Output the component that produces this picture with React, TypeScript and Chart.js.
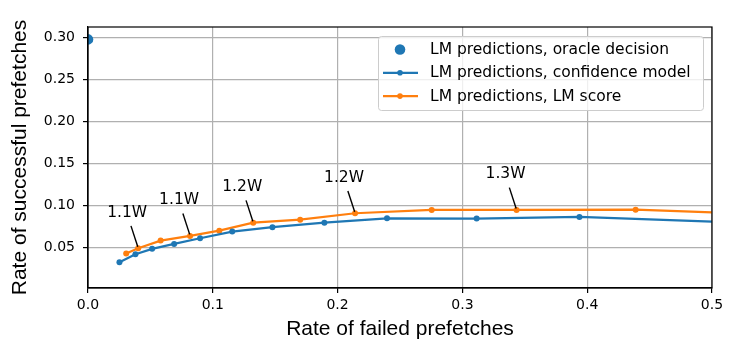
import React, { useEffect, useRef } from "react";
import { Chart, registerables } from "chart.js";

Chart.register(...registerables);

// ---- data ----
const oracleX = [0.0];
const oracleY = [0.2973];

const confX = [0.0252, 0.038, 0.0514, 0.069, 0.0898, 0.1156, 0.1478, 0.1894, 0.2396, 0.3114, 0.3938, 0.56];
const confY = [0.0327, 0.0422, 0.0485, 0.0544, 0.0611, 0.069, 0.0742, 0.0796, 0.0848, 0.0844, 0.0864, 0.0776];

const lmX = [0.0306, 0.0402, 0.0582, 0.0818, 0.1052, 0.1324, 0.17, 0.214, 0.2754, 0.3434, 0.4388, 0.56];
const lmY = [0.0429, 0.0493, 0.0583, 0.0639, 0.0701, 0.0796, 0.0832, 0.0908, 0.0947, 0.0947, 0.095, 0.0889];

const annotLabels = ["1.1W", "1.1W", "1.2W", "1.2W", "1.3W"];
const annotIndex = [1, 3, 5, 7, 9];

const xTicks = [0.0, 0.1, 0.2, 0.3, 0.4, 0.5];
const yTicks = [0.05, 0.1, 0.15, 0.2, 0.25, 0.3];

const seriesLabels = [
  "LM predictions, oracle decision",
  "LM predictions, confidence model",
  "LM predictions, LM score",
];

const BLUE = "#1f77b4";
const ORANGE = "#ff7f0e";

const toPts = (xs: number[], ys: number[]) => xs.map((x, i) => ({ x, y: ys[i] }));
const CLIP = { left: 0, top: 0, right: 0, bottom: 0 };

const clipPlugin = {
  id: "hardClip",
  beforeDatasetDraw(chart: any) {
    const { ctx, chartArea: a } = chart;
    ctx.save();
    ctx.beginPath();
    ctx.rect(a.left, a.top, a.right - a.left, a.bottom - a.top);
    ctx.clip();
  },
  afterDatasetDraw(chart: any) {
    chart.ctx.restore();
  },
};

const framePlugin = {
  id: "frame",
  afterDatasetsDraw(chart: any) {
    const { ctx, chartArea: a } = chart;
    ctx.save();
    ctx.strokeStyle = "#000";
    ctx.lineWidth = 1.2;
    ctx.strokeRect(a.left, a.top, a.right - a.left, a.bottom - a.top);
    ctx.restore();
  },
};

const annotPlugin = {
  id: "annots",
  afterDatasetsDraw(chart: any) {
    const { ctx } = chart;
    const xs = chart.scales.x;
    const ys = chart.scales.y;
    ctx.save();
    ctx.font = "15.5px 'DejaVu Sans'";
    ctx.fillStyle = "#000";
    ctx.strokeStyle = "#000";
    ctx.lineWidth = 1.4;
    ctx.textAlign = "center";
    ctx.textBaseline = "alphabetic";
    annotLabels.forEach((lab, k) => {
      const i = annotIndex[k];
      const px = xs.getPixelForValue(lmX[i]);
      const py = ys.getPixelForValue(lmY[i]);
      ctx.fillText(lab, px - 11, py - 31.5);
      ctx.beginPath();
      ctx.moveTo(px - 7.2, py - 22.3);
      ctx.lineTo(px - 0.4, py - 1.5);
      ctx.stroke();
    });
    ctx.restore();
  },
};

const legendPlugin = {
  id: "customLegend",
  afterDraw(chart: any) {
    const { ctx, chartArea: a } = chart;
    const w = 325;
    const h = 74;
    const left = a.right - 9 - w;
    const top = a.top + 9.5;
    ctx.save();
    ctx.beginPath();
    ctx.roundRect(left + 0.5, top, w, h, 3);
    ctx.fillStyle = "rgba(255,255,255,0.8)";
    ctx.fill();
    ctx.strokeStyle = "#cccccc";
    ctx.lineWidth = 1;
    ctx.stroke();
    ctx.font = "15.5px 'DejaVu Sans'";
    ctx.textBaseline = "middle";
    ctx.textAlign = "left";
    chart.data.datasets.forEach((ds: any, i: number) => {
      const cy = top + 13 + i * 23.3;
      const cx = left + 22;
      if (ds.showLine === false) {
        ctx.beginPath();
        ctx.arc(cx, cy, 5.3, 0, Math.PI * 2);
        ctx.fillStyle = ds.backgroundColor;
        ctx.fill();
      } else {
        ctx.beginPath();
        ctx.moveTo(left + 5, cy);
        ctx.lineTo(left + 40, cy);
        ctx.strokeStyle = ds.borderColor;
        ctx.lineWidth = 2.2;
        ctx.stroke();
        ctx.beginPath();
        ctx.arc(cx, cy, 2.8, 0, Math.PI * 2);
        ctx.fillStyle = ds.borderColor;
        ctx.fill();
      }
      ctx.fillStyle = "#000";
      ctx.fillText(ds.label, left + 52, cy + 0.5);
    });
    ctx.restore();
  },
};

export default function App() {
  const ref = useRef<HTMLCanvasElement>(null);
  useEffect(() => {
    document.body.style.margin = "0";
    const canvas = ref.current!;
    Chart.defaults.font.family = "'DejaVu Sans'";
    Chart.defaults.color = "#000";
    const chart = new Chart(canvas, {
      type: "line",
      data: {
        datasets: [
          {
            label: seriesLabels[0],
            data: toPts(oracleX, oracleY),
            showLine: false,
            backgroundColor: BLUE,
            borderColor: BLUE,
            pointRadius: 5.3,
            pointBorderWidth: 0,
            clip: CLIP,
          },
          {
            label: seriesLabels[1],
            data: toPts(confX, confY),
            borderColor: BLUE,
            backgroundColor: BLUE,
            borderWidth: 2.2,
            pointRadius: 3,
            pointBorderWidth: 0,
            tension: 0,
            clip: CLIP,
          },
          {
            label: seriesLabels[2],
            data: toPts(lmX, lmY),
            borderColor: ORANGE,
            backgroundColor: ORANGE,
            borderWidth: 2.2,
            pointRadius: 3,
            pointBorderWidth: 0,
            tension: 0,
            clip: CLIP,
          },
        ],
      },
      options: {
        responsive: false,
        animation: false,
        events: [],
        layout: { padding: { left: 0, right: 23, top: 27, bottom: 0 } },
        plugins: { legend: { display: false }, tooltip: { enabled: false } },
        scales: {
          x: {
            type: "linear",
            min: 0,
            max: 0.5,
            afterFit: (s: any) => {
              s.height = 61;
            },
            afterBuildTicks: (s: any) => {
              s.ticks = xTicks.map((v) => ({ value: v }));
            },
            ticks: {
              font: { size: 14, family: "'DejaVu Sans'" },
              color: "#000",
              padding: 4,
              maxRotation: 0,
              callback: (v: any) => Number(v).toFixed(1),
            },
            grid: { color: "#b0b0b0", lineWidth: 1.2, tickColor: "#000", tickLength: 5, tickWidth: 1.2 },
            border: { color: "#000", width: 1.2 },
            title: {
              display: true,
              text: "Rate of failed prefetches",
              font: { size: 21, family: "'Liberation Sans'" },
              color: "#000",
              padding: { top: 0, bottom: 7 },
            },
          },
          y: {
            type: "linear",
            min: 0.002,
            max: 0.312,
            afterFit: (s: any) => {
              s.width = 88;
            },
            afterBuildTicks: (s: any) => {
              s.ticks = yTicks.map((v) => ({ value: v }));
            },
            ticks: {
              font: { size: 14, family: "'DejaVu Sans'" },
              color: "#000",
              padding: 8,
              callback: (v: any) => Number(v).toFixed(2),
            },
            grid: { color: "#b0b0b0", lineWidth: 1.2, tickColor: "#000", tickLength: 5, tickWidth: 1.2 },
            border: { color: "#000", width: 1.2 },
            title: {
              display: true,
              text: "Rate of successful prefetches",
              font: { size: 21, family: "'Liberation Sans'" },
              color: "#000",
              padding: { top: 8, bottom: 0 },
            },
          },
        },
      },
      plugins: [clipPlugin, framePlugin, annotPlugin, legendPlugin],
    } as any);
    return () => chart.destroy();
  }, []);
  return (
    <div style={{ width: 735, height: 349 }}>
      <canvas ref={ref} width={735} height={349} style={{ display: "block" }} />
    </div>
  );
}
